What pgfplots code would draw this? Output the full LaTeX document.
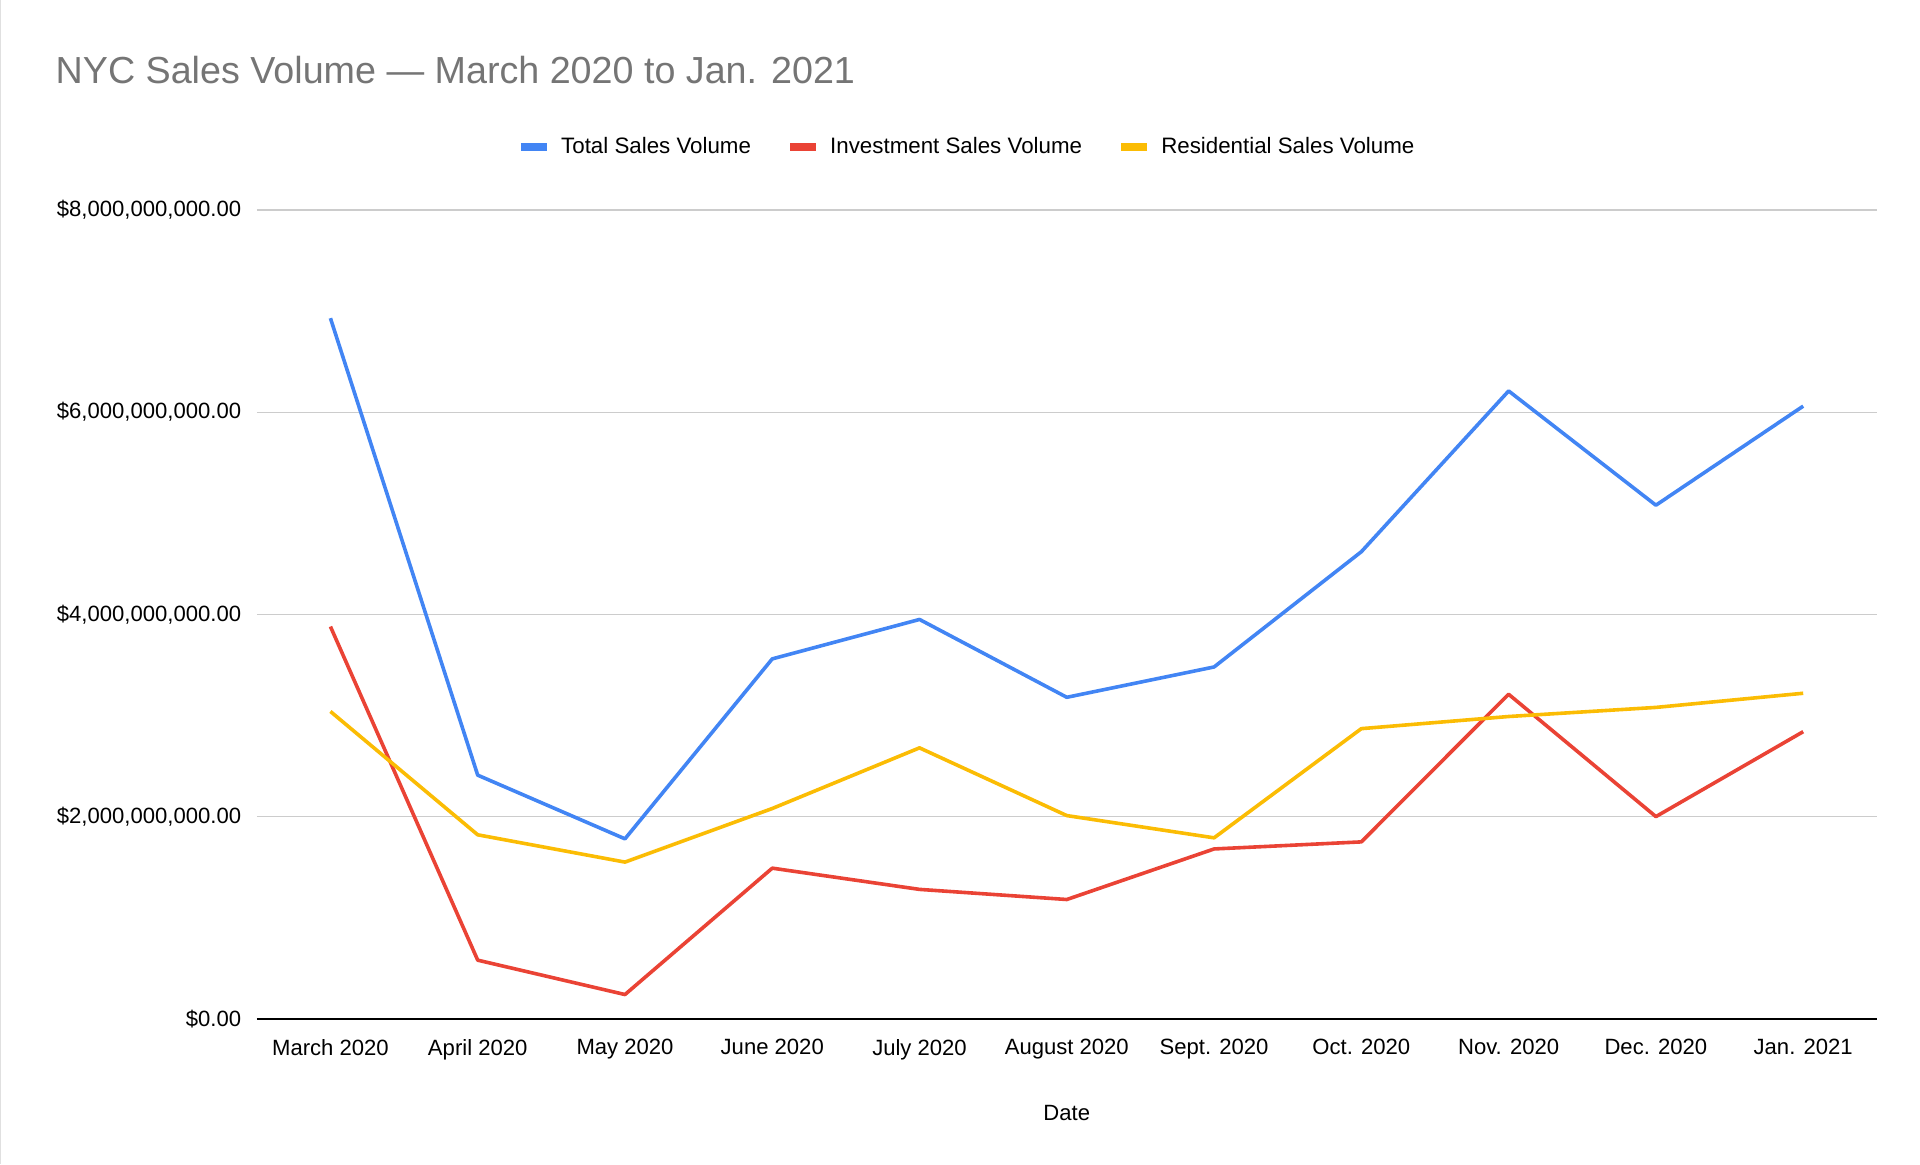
\documentclass[border=0pt]{standalone}
\usepackage{pgfplots}
\pgfplotsset{compat=1.18}
\usepackage{fontspec}
\setmainfont{Liberation Sans}

\definecolor{gblue}{HTML}{4285F4}
\definecolor{gred}{HTML}{EA4335}
\definecolor{gyellow}{HTML}{FBBC04}
\definecolor{titlegray}{HTML}{757575}
\definecolor{gridgray}{HTML}{CCCCCC}

\begin{document}
\begin{tikzpicture}
  \path[use as bounding box] (0,0) rectangle (800pt,485pt);
  \draw[black!12, line width=0.6pt] (0.3pt,0) -- (0.3pt,485pt);
  \node[anchor=west, text=titlegray, font=\fontsize{15.7}{18}\selectfont, inner sep=0pt]
    at (23pt,456pt) {NYC Sales Volume — March 2020 to Jan. 2021};
  \begin{axis}[at={(107pt,60.5pt)}, anchor=south west,
               scale only axis,
               width=675pt, height=337pt,
               xmin=-0.5, xmax=10.5,
               ymin=0, ymax=8,
               xtick={0,...,10},
               xticklabels={March 2020, April 2020, May 2020, June 2020, July 2020,
                            August 2020, Sept. 2020, Oct. 2020, Nov. 2020, Dec. 2020, Jan. 2021},
               ytick={0,2,4,6,8},
               yticklabels={{\$0.00}, {\$2,000,000,000.00}, {\$4,000,000,000.00},
                            {\$6,000,000,000.00}, {\$8,000,000,000.00}},
               ymajorgrids,
               major grid style={gridgray, line width=0.5pt},
               axis x line*=bottom,
               axis y line*=left,
               x axis line style={black, line width=0.8pt, -},
               y axis line style={draw=none},
               tick style={draw=none},
               tick label style={font=\fontsize{9.2}{11}\selectfont},
               xticklabel style={yshift=-5pt},
               yticklabel style={xshift=-3pt},
               xlabel={Date},
               xlabel style={at={(axis description cs:0.5,-0.117)}, anchor=center,
                             font=\fontsize{9.2}{11}\selectfont},
               legend columns=3,
               legend style={at={(axis description cs:0.439,1.078)}, anchor=center,
                             draw=none, fill=none,
                             font=\fontsize{9.3}{11}\selectfont,
                             /tikz/every even column/.append style={column sep=12.5pt}},
               legend image code/.code={\draw[#1, line width=3.5pt] (0pt,0pt) -- (11pt,0pt);
                                        \path (14pt,0pt);},
               every axis plot/.append style={line width=1.5pt, line join=round}]
    \addplot[gblue] coordinates {(0,6.93)(1,2.41)(2,1.78)(3,3.56)(4,3.95)(5,3.18)
                                 (6,3.48)(7,4.62)(8,6.21)(9,5.08)(10,6.06)};
    \addlegendentry{Total Sales Volume}
    \addplot[gred] coordinates {(0,3.88)(1,0.58)(2,0.24)(3,1.49)(4,1.28)(5,1.18)
                                (6,1.68)(7,1.75)(8,3.21)(9,2.00)(10,2.84)};
    \addlegendentry{Investment Sales Volume}
    \addplot[gyellow] coordinates {(0,3.04)(1,1.82)(2,1.55)(3,2.08)(4,2.68)(5,2.01)
                                   (6,1.79)(7,2.87)(8,2.99)(9,3.08)(10,3.22)};
    \addlegendentry{Residential Sales Volume}
  \end{axis}
\end{tikzpicture}
\end{document}
